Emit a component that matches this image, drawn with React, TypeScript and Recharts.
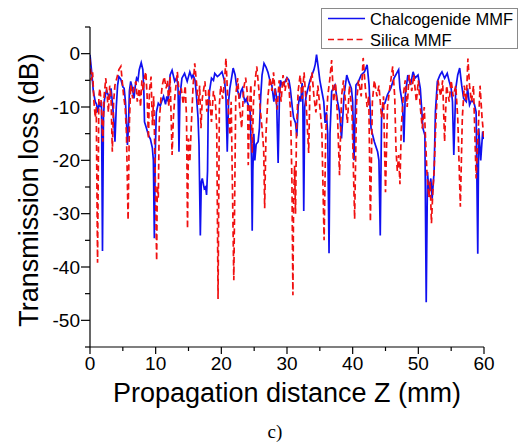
import { LineChart, Line, XAxis, YAxis, Legend, Label } from "recharts";

// Chalcogenide MMF (blue, solid): propagation distance (mm) and loss (dB)
const chalcZ = [
    0, 0.3, 0.5, 0.8, 1.0, 1.2, 1.4, 1.6, 1.75, 1.9, 2.05, 2.2, 2.5, 2.7, 3.0, 3.2, 3.4, 3.6, 3.8, 4.0,
    4.2, 4.4, 4.7, 5.0, 5.2, 5.4, 5.6, 5.7, 5.85, 6.0, 6.2, 6.45, 6.7, 6.9, 7.1, 7.3, 7.5, 7.8, 8.05, 8.2,
    8.3, 8.6, 8.9, 9.2, 9.5, 9.65, 9.8, 9.95, 10.1, 10.4, 10.7, 10.9, 11.2, 11.5, 11.7, 11.9, 12.2, 12.5, 12.9, 13.2,
    13.4, 13.55, 13.7, 14.0, 14.4, 14.8, 15.2, 15.5, 15.7, 16.0, 16.2, 16.45, 16.6, 16.8, 16.95, 17.1, 17.4, 17.6, 17.75, 17.9,
    18.0, 18.2, 18.5, 18.8, 19.0, 19.4, 19.7, 20.1, 20.5, 20.7, 20.9, 21.1, 21.3, 21.8, 22.1, 22.3, 22.5, 22.8, 23.0, 23.2,
    23.4, 23.6, 23.8, 24.1, 24.4, 24.6, 24.7, 24.8, 24.95, 25.1, 25.3, 25.6, 25.8, 26.0, 26.2, 26.5, 26.8, 27.1, 27.4, 27.7,
    28.0, 28.2, 28.4, 28.65, 28.85, 29.0, 29.3, 29.6, 30.0, 30.3, 30.5, 30.8, 31.0, 31.3, 31.5, 31.7, 31.9, 32.1, 32.3, 32.4,
    32.55, 32.7, 32.9, 33.2, 33.5, 33.8, 34.1, 34.3, 34.5, 34.8, 35.0, 35.3, 35.6, 35.8, 36.0, 36.2, 36.4, 36.55, 36.8, 37.3,
    37.7, 38.0, 38.3, 38.7, 39.1, 39.4, 39.8, 40.0, 40.2, 40.5, 40.9, 41.3, 41.8, 42.2, 42.5, 42.8, 43.3, 43.8, 44.0, 44.2,
    44.4, 44.6, 44.9, 45.3, 45.8, 46.3, 47.0, 47.2, 47.6, 47.8, 48.0, 48.4, 48.8, 49.2, 49.5, 49.95, 50.3, 50.7, 51.0, 51.2,
    51.4, 51.6, 51.9, 52.1, 52.4, 52.6, 52.9, 53.3, 53.6, 54.0, 54.4, 54.7, 55.0, 55.2, 55.4, 55.7, 56.0, 56.3, 56.6, 56.9,
    57.3, 57.5, 57.8, 58.1, 58.5, 58.8, 59.05, 59.2, 59.5, 59.8, 60.0,
];
const chalcLoss = [
    -0.2, -4, -7, -9, -9.5, -11, -9, -10, -9, -37, -12, -8.6, -6.9, -7.5, -8.5, -6.5, -9, -12, -16.5, -10,
    -6, -4.3, -4.8, -6.2, -6.5, -9, -14, -17.1, -14, -7, -5.2, -6.5, -8.4, -6, -4.6, -5, -3, -1.7, -3, -7,
    -12.8, -14, -15.3, -16, -17.7, -20, -34.6, -18, -11, -9.3, -9.8, -9, -8, -9.5, -8, -9, -4, -3.1, -5.2, -4.5,
    -6, -18.4, -8, -4.6, -3.7, -5.2, -3.4, -4.5, -4, -5, -7.7, -12, -17.1, -34.1, -24, -23.4, -25.3, -25, -26.5, -22,
    -10.9, -7, -4.6, -5, -3.7, -4.3, -4, -3.4, -5.2, -8, -18.4, -9, -6.5, -2.7, -4, -5.9, -7, -8.4, -7, -6.5,
    -8, -9, -8.5, -9.6, -11, -20, -33.2, -22, -15, -20, -17, -16.5, -14, -8, -4, -1.8, -2.5, -3.5, -5, -6,
    -9, -6.5, -8, -20.5, -8, -5, -6, -5.5, -4.5, -5, -6.5, -10, -12, -13, -15.5, -10, -8, -9, -5.5, -7,
    -29.5, -10, -8, -6.5, -5, -4, -3, -2, -0.2, -3, -5, -7, -9, -13, -11, -15, -37.4, -15, -7.1, -5.9,
    -9, -11, -15.9, -7.7, -4, -5.2, -6.5, -9, -20, -5.9, -5.2, -4, -3.4, -2.1, -5.9, -14, -16.5, -18.4, -20, -34.1,
    -12, -9.6, -9.3, -7.7, -6.5, -4.6, -3, -6.5, -9.6, -16.6, -8, -4, -5.9, -3.4, -4.6, -4, -6.5, -14, -15.3, -46.6,
    -22.2, -25.9, -23.4, -27.2, -22.2, -10.9, -5.2, -4, -3.4, -4.6, -3.7, -5.2, -6.5, -9, -19, -6.5, -4, -2.7, -5.9, -8.4,
    -9, -6.5, -9.6, -8.7, -9.3, -10.9, -37.5, -14, -20, -14.6, -16,
];

// Silica MMF (red, dashed)
const silicaZ = [
    0, 0.2, 0.4, 0.6, 0.8, 0.95, 1.15, 1.35, 1.5, 1.7, 1.95, 2.15, 2.4, 2.6, 2.8, 3.0, 3.2, 3.4, 3.6, 3.8,
    4.1, 4.4, 4.7, 4.9, 5.1, 5.35, 5.55, 5.8, 6.0, 6.2, 6.5, 6.7, 7.0, 7.2, 7.5, 7.7, 7.9, 8.1, 8.3, 8.5,
    8.7, 8.9, 9.05, 9.3, 9.5, 9.7, 9.9, 10.15, 10.25, 10.4, 10.55, 10.8, 11.0, 11.3, 11.6, 11.8, 12.0, 12.2, 12.5, 12.7,
    12.9, 13.3, 13.6, 13.9, 14.2, 14.5, 14.7, 14.85, 15.0, 15.2, 15.45, 15.7, 15.95, 16.2, 16.5, 16.7, 16.9, 17.1, 17.5, 17.8,
    18.1, 18.5, 18.8, 19.1, 19.3, 19.5, 19.7, 19.9, 20.2, 20.5, 20.7, 20.95, 21.3, 21.5, 21.9, 22.2, 22.5, 22.75, 23.1, 23.4,
    23.7, 24.0, 24.1, 24.3, 24.5, 24.7, 24.9, 25.15, 25.4, 25.7, 25.9, 26.2, 26.45, 26.6, 26.8, 27.1, 27.4, 27.7, 27.95, 28.2,
    28.5, 28.8, 29.1, 29.4, 29.7, 30.0, 30.3, 30.55, 30.75, 30.9, 31.0, 31.15, 31.3, 31.45, 31.7, 32.0, 32.3, 32.6, 32.9, 33.3,
    33.5, 33.8, 34.1, 34.4, 34.7, 35.0, 35.3, 35.65, 35.9, 36.2, 36.5, 36.8, 37.1, 37.4, 37.7, 38.0, 38.3, 38.6, 38.9, 39.2,
    39.5, 39.9, 40.3, 40.6, 40.9, 41.3, 41.6, 41.9, 42.2, 42.45, 42.7, 43.0, 43.3, 43.7, 44.0, 44.4, 44.7, 45.0, 45.3, 45.7,
    46.1, 46.4, 46.6, 46.8, 47.0, 47.2, 47.4, 47.7, 48.0, 48.3, 48.6, 49.0, 49.3, 49.7, 50.0, 50.3, 50.6, 50.9, 51.3, 51.6,
    51.8, 52.0, 52.2, 52.4, 52.7, 53.0, 53.4, 53.7, 54.0, 54.3, 54.7, 55.0, 55.3, 55.7, 56.0, 56.4, 56.7, 57.0, 57.3, 57.55,
    57.8, 58.1, 58.4, 58.8, 59.1, 59.4, 59.7, 60.0,
];
const silicaLoss = [
    -1, -5, -3.5, -9, -12, -10, -39.2, -8, -6.5, -9, -16.5, -8, -4.6, -7.5, -11, -6, -8, -18.4, -9, -5.9,
    -4.5, -3, -2.4, -5, -7.7, -10, -15, -31.2, -13, -5.9, -8.4, -6, -5.2, -9, -6.5, -10, -5, -7, -4.5, -3.4,
    -8, -16, -7, -4.3, -13.4, -8, -20, -38.8, -24.7, -27, -12.8, -8.4, -6, -4.3, -6.5, -5, -10, -4.3, -19, -12,
    -8.4, -3.4, -7.7, -6.5, -9.5, -6, -12, -32.8, -15.9, -20.3, -12.8, -6, -1.8, -5.2, -9.6, -6, -14, -8.4, -5.2, -10.9,
    -6.5, -12.8, -7, -9, -14, -46, -9.6, -6, -8.5, -5, -0.85, -7.7, -15.3, -9, -42.5, -7.7, -4.6, -9.6, -14, -6.5,
    -4.5, -8, -20.9, -10, -5.8, -18.6, -9, -5, -2.4, -6.5, -10, -14, -18, -29, -15, -8, -4.5, -7, -3.5, -7.5,
    -10.5, -5, -9, -4, -7, -4.5, -6.5, -11, -24, -45.3, -28, -21, -30, -14, -7, -4, -8.5, -3.5, -9, -18.6,
    -6, -3.5, -8, -11, -6, -10, -14, -35, -15, -8, -5, -1.2, -9, -5.5, -12, -22.8, -8, -5, -9, -13,
    -6, -11, -31, -9, -5, -8, -0.8, -6, -10, -8, -31.5, -9, -5, -8, -6, -12, -8, -26, -10, -6,
    -2.4, -8, -18, -22, -19, -24.5, -14, -8, -5, -10, -4, -7, -4, -9, -5, -10, -14, -10, -22, -27,
    -24, -31.8, -26, -22, -12, -5, -8, -5, -16.5, -6, -9, -5, -8, -6, -12, -28.7, -12, -6, -9, -0.9,
    -6, -9, -6, -23.4, -15, -6, -12, -16,
];

const xTicks = [0, 5, 10, 15, 20, 25, 30, 35, 40, 45, 50, 55, 60];
const yTicks = [-55, -50, -45, -40, -35, -30, -25, -20, -15, -10, -5, 0, 5];

const chalcData = chalcZ.map((z, i) => ({ z, loss: chalcLoss[i] }));
const silicaData = silicaZ.map((z, i) => ({ z, loss: silicaLoss[i] }));

const FONT = '"Liberation Sans", Arial, sans-serif';
const BLUE = "#1010f0";
const RED = "#f01010";
const DASH = "6 3.5";

const XTick = ({ x, y, payload }: any) => {
    const major = payload.value % 10 === 0;
    return (
        <g>
            <line x1={x} x2={x} y1={y} y2={y + (major ? 7 : 4)} stroke="#000" strokeWidth={1.2} />
            {major && (
                <text x={x} y={y + 23} textAnchor="middle" fontSize={19} fontFamily={FONT} fill="#000">
                    {payload.value}
                </text>
            )}
        </g>
    );
};

const YTick = ({ x, y, payload }: any) => {
    const major = payload.value % 10 === 0;
    return (
        <g>
            <line x1={x - (major ? 9 : 5)} x2={x} y1={y} y2={y} stroke="#000" strokeWidth={1.2} />
            {major && (
                <text x={x - 10} y={y + 6.7} textAnchor="end" fontSize={19} fontFamily={FONT} fill="#000">
                    {payload.value}
                </text>
            )}
        </g>
    );
};

const renderLegend = ({ payload }: any) => (
    <svg width={197} height={41} style={{ display: "block" }}>
        <rect x={0.5} y={0.5} width={196} height={40} fill="#fff" stroke="#8a8a8a" strokeWidth={1} />
        {(payload || []).map((entry: any, i: number) => {
            const cy = 10.5 + i * 21;
            const dashed = entry.value === "Silica MMF";
            return (
                <g key={entry.value}>
                    <line x1={7} x2={44} y1={cy} y2={cy} stroke={entry.color}
                        strokeWidth={1.6} strokeDasharray={dashed ? DASH : undefined} />
                    <text x={49} y={cy + 6} fontSize={16.5} fontFamily={FONT} fill="#000">{entry.value}</text>
                </g>
            );
        })}
    </svg>
);

export default function App() {
    return (
        <div style={{ position: "absolute", left: 0, top: 0, width: 524, height: 445, background: "#fff" }}>
            <LineChart width={524} height={445} margin={{ top: 27, right: 40, bottom: 0, left: 0 }}>
                <XAxis dataKey="z" type="number" domain={[0, 60]} ticks={xTicks} interval={0}
                    height={98} tickSize={0} tickMargin={0} tick={<XTick />}
                    axisLine={{ stroke: "#000", strokeWidth: 1.2 }} allowDataOverflow>
                    <Label content={({ viewBox }: any) => (
                        <g>
                            <text x={viewBox.x + viewBox.width / 2} y={viewBox.y + 55} textAnchor="middle"
                                fontSize={27} fontFamily={FONT} fill="#000">
                                Propagation distance Z (mm)
                            </text>
                            <text x={275} y={viewBox.y + 91} textAnchor="middle" fontSize={19}
                                fontFamily='"Liberation Serif", "Times New Roman", serif' fill="#000">
                                c)
                            </text>
                        </g>
                    )} />
                </XAxis>
                <YAxis type="number" domain={[-55, 5]} ticks={yTicks} interval={0} width={90}
                    tickSize={0} tickMargin={0} tick={<YTick />}
                    axisLine={{ stroke: "#000", strokeWidth: 1.2 }} allowDataOverflow>
                    <Label content={({ viewBox }: any) => {
                        const cx = 38;
                        const cy = viewBox.y + viewBox.height / 2 + 3;
                        return (
                            <text x={cx} y={cy} transform={`rotate(-90, ${cx}, ${cy})`} textAnchor="middle"
                                fontSize={27} fontFamily={FONT} fill="#000">
                                Transmission loss (dB)
                            </text>
                        );
                    }} />
                </YAxis>
                <Legend layout="vertical" align="center" verticalAlign="middle"
                    wrapperStyle={{ left: 321, top: 8, width: 197, height: 41 }} content={renderLegend} />
                <Line data={chalcData} dataKey="loss" name="Chalcogenide MMF" type="linear" stroke={BLUE}
                    strokeWidth={1.7} dot={false} activeDot={false} isAnimationActive={false} />
                <Line data={silicaData} dataKey="loss" name="Silica MMF" type="linear" stroke={RED}
                    strokeWidth={1.7} strokeDasharray={DASH} dot={false} activeDot={false} isAnimationActive={false} />
            </LineChart>
        </div>
    );
}
